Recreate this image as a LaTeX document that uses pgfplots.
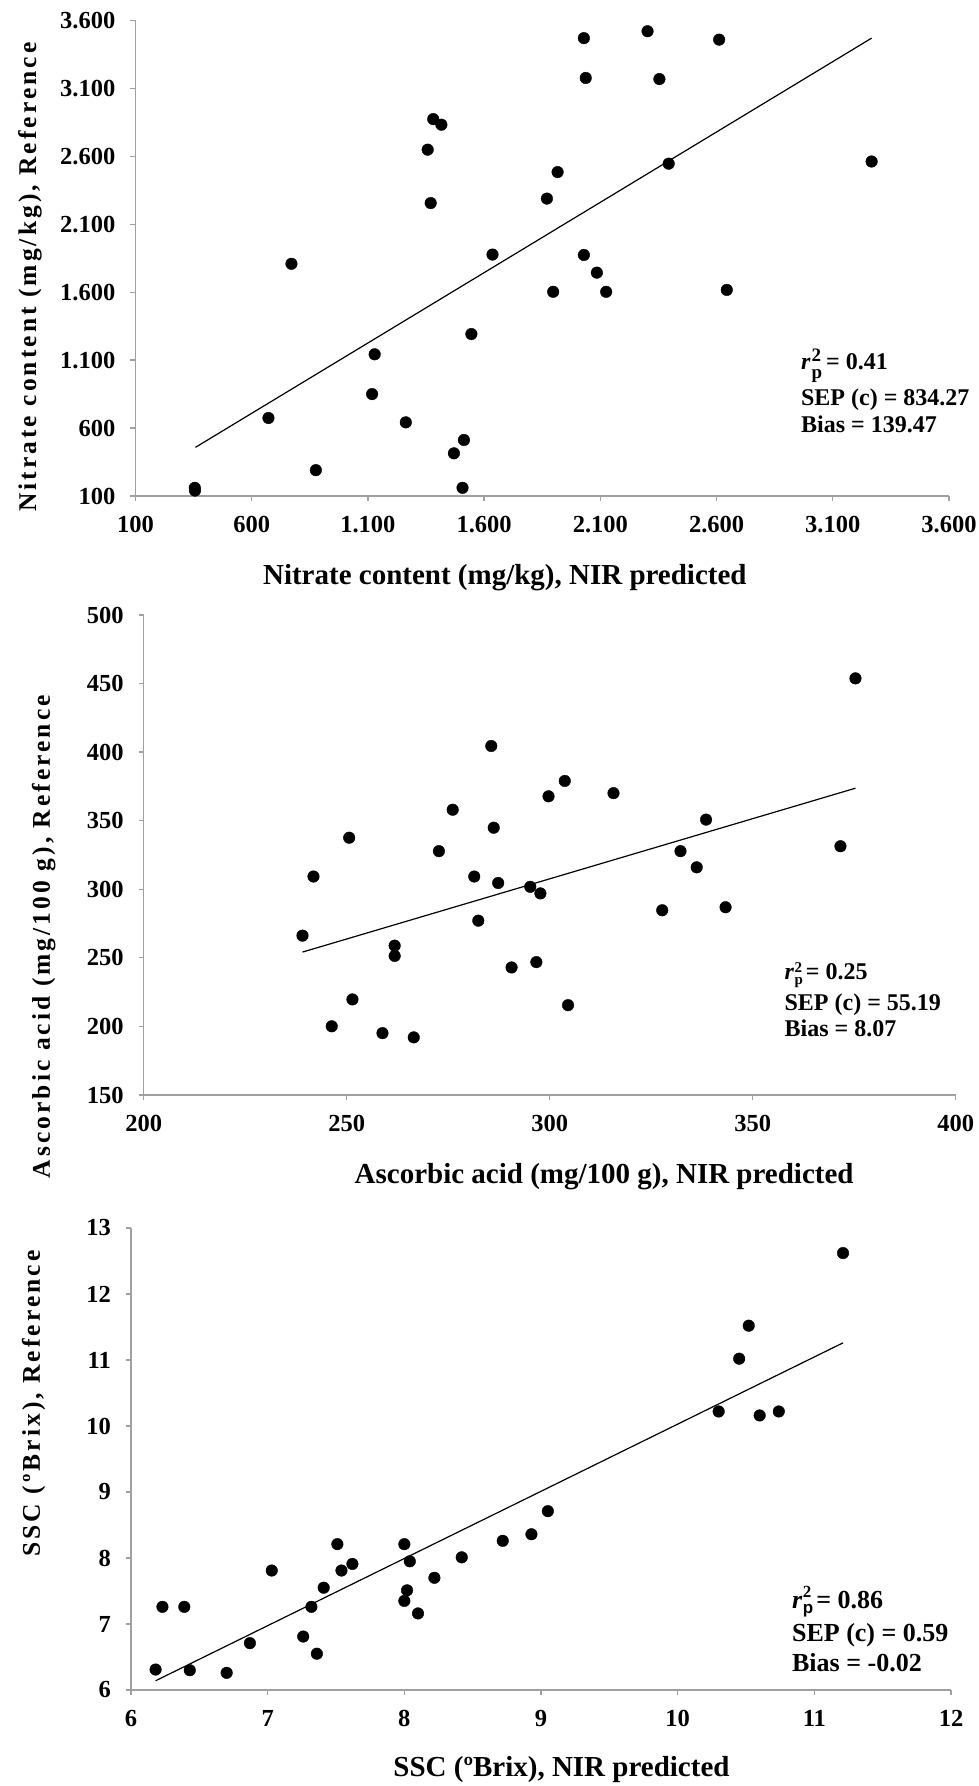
\documentclass[border=0pt]{standalone}
\usepackage{fontspec}
\setmainfont{Liberation Serif}
\setsansfont{Liberation Sans}
\usepackage{pgfplots}
\pgfplotsset{compat=1.18}
\definecolor{axisgray}{HTML}{A0A0A0}

% r^2_p with the 2 and the p stacked after the r
\newcommand{\rsq}[4]{\textit{r}\kern#1\rlap{\raisebox{#2}{\fontsize{#4}{#4}\selectfont 2}}\raisebox{-#3}{\fontsize{#4}{#4}\selectfont p}}

\tikzset{
  stat/.style={anchor=base west, inner sep=0pt, font=\fontsize{24}{28}\selectfont\bfseries},
}

\pgfplotsset{
  nirplot/.style={
    scale only axis,
    axis lines=left,
    axis line style={draw=axisgray, line width=1.3pt, -},
    tick align=outside,
    major tick length=5pt,
    tick style={draw=axisgray, line width=1.3pt},
    enlargelimits=false,
    clip=false,
    /pgf/number format/assume math mode=true,
    ticklabel style={font=\fontsize{24.5}{29}\selectfont\bfseries, inner sep=0pt},
    xticklabel style={yshift=-15pt},
    yticklabel style={xshift=-15pt},
    label style={font=\fontsize{29}{34}\selectfont\bfseries},
    ylabel style={font=\fontsize{25.5}{30}\selectfont\bfseries\addfontfeature{LetterSpace=12}, anchor=base},
    xlabel style={anchor=base},
  },
  dots/.style={only marks, mark=*, mark size=5.8pt, mark options={fill=black, draw=black}},
  fitline/.style={black, line width=1.2pt, no marks},
}

\begin{document}
\begin{tikzpicture}
\path[use as bounding box] (0,0) rectangle (979pt,1786pt);

% ---- nitrate ----
\begin{axis}[nirplot,
  at={(135.5pt,1290pt)}, anchor=south west,
  width=813.5pt, height=475.5pt,
  xmin=100, xmax=3600, ymin=100, ymax=3600,
  xtick={100,600,1100,1600,2100,2600,3100,3600},
  xticklabels={100,600,1.100,1.600,2.100,2.600,3.100,3.600},
  ytick={100,600,1100,1600,2100,2600,3100,3600},
  yticklabels={100,600,1.100,1.600,2.100,2.600,3.100,3.600},
  xlabel={Nitrate content (mg/kg), NIR predicted},
  ylabel={Nitrate content (mg/kg), Reference},
  xlabel style={at={(axis description cs:0.454,0)}, yshift=-89pt},
  ylabel style={at={(axis description cs:-0.1223,0.46)}},
]
\addplot[dots] coordinates {
  (355,160) (356,140) (672,674) (771,1809) (876,290) (1118,850)
  (1129,1143) (1263,642) (1357,2649) (1370,2256) (1381,2874) (1416,2833)
  (1470,414) (1507,160) (1513,512) (1545,1292) (1636,1877) (1870,2289)
  (1897,1603) (1916,2484) (2029,3470) (2037,3177) (2029,1874) (2085,1744)
  (2125,1603) (2303,3521) (2354,3169) (2394,2546) (2611,3459) (2644,1617)
  (3267,2562)
};
\addplot[fitline] coordinates {(358,458) (3267,3470)};
\node[stat] at (axis description cs:0.818,0.265) {\rsq{1pt}{8pt}{9pt}{19}\kern4pt = 0.41};
\node[stat] at (axis description cs:0.818,0.191) {SEP (c) = 834.27};
\node[stat] at (axis description cs:0.818,0.133) {Bias = 139.47};
\end{axis}

% ---- ascorbic acid ----
\begin{axis}[nirplot,
  at={(143.75pt,691pt)}, anchor=south west,
  width=812pt, height=480pt,
  xmin=200, xmax=400, ymin=150, ymax=500,
  xtick={200,250,300,350,400},
  ytick={150,200,250,300,350,400,450,500},
  xlabel={Ascorbic acid (mg/100 g), NIR predicted},
  ylabel={Ascorbic acid (mg/100 g), Reference},
  xlabel style={at={(axis description cs:0.567,0)}, yshift=-89pt},
  ylabel style={at={(axis description cs:-0.1155,0.33)}},
]
\addplot[dots] coordinates {
  (239.1,266.2) (241.8,309.3) (246.3,200.1) (250.6,337.6) (251.4,219.7)
  (258.8,195.1) (261.8,258.9) (261.8,251.4) (266.5,192.0) (272.7,327.8)
  (276.1,358.0) (281.4,309.3) (282.4,277.1) (285.6,404.5) (286.2,344.9)
  (287.3,304.6) (290.6,243.0) (295.2,301.8) (296.7,246.9) (297.7,297.0)
  (299.7,367.8) (303.7,379.0) (304.5,215.5) (315.7,370.1) (327.7,284.7)
  (332.2,327.8) (336.2,316.0) (338.5,350.8) (343.3,286.9) (371.6,331.4)
  (375.3,453.8)
};
\addplot[fitline] coordinates {(239.1,254.2) (375.3,373.7)};
\node[stat] at (axis description cs:0.789,0.24) {\rsq{0.5pt}{7.5pt}{4.5pt}{15}\kern3pt = 0.25};
\node[stat] at (axis description cs:0.789,0.177) {SEP (c) = 55.19};
\node[stat] at (axis description cs:0.789,0.121) {Bias = 8.07};
\end{axis}

% ---- SSC ----
\begin{axis}[nirplot,
  at={(131pt,96pt)}, anchor=south west,
  width=820pt, height=462pt,
  xmin=6, xmax=12, ymin=6, ymax=13,
  xtick={6,7,...,12},
  ytick={6,7,...,13},
  xlabel={SSC (ºBrix), NIR predicted},
  ylabel={SSC (ºBrix), Reference},
  xlabel style={at={(axis description cs:0.525,0)}, yshift=-86pt},
  ylabel style={at={(axis description cs:-0.111,0.62)}},
]
\addplot[dots] coordinates {
  (6.18,6.31) (6.23,7.26) (6.39,7.26) (6.43,6.30) (6.70,6.26) (6.87,6.71)
  (7.03,7.81) (7.26,6.81) (7.32,7.26) (7.36,6.55) (7.41,7.55) (7.51,8.21)
  (7.54,7.81) (7.62,7.91) (8.00,8.21) (8.00,7.35) (8.02,7.51) (8.04,7.95)
  (8.10,7.16) (8.22,7.70) (8.42,8.01) (8.72,8.26) (8.93,8.36) (9.05,8.71)
  (10.30,10.22) (10.45,11.02) (10.52,11.52) (10.60,10.16) (10.74,10.22)
  (11.21,12.62)
};
\addplot[fitline] coordinates {(6.18,6.14) (11.21,11.26)};
\node[stat, font=\fontsize{26}{30}\selectfont\bfseries] at (axis description cs:0.806,0.177) {\textit{r}\kern0.5pt\rlap{\raisebox{11pt}{\fontsize{17}{17}\selectfont 2}}\raisebox{-5pt}{\fontsize{17}{17}\selectfont\sffamily p}\kern3pt = 0.86};
\node[stat, font=\fontsize{26}{30}\selectfont\bfseries] at (axis description cs:0.806,0.104) {SEP (c) = 0.59};
\node[stat, font=\fontsize{26}{30}\selectfont\bfseries] at (axis description cs:0.806,0.041) {Bias = -0.02};
\end{axis}
\end{tikzpicture}
\end{document}
